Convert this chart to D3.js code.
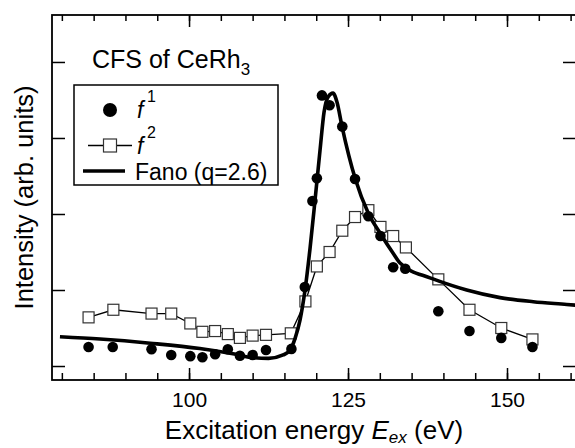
<!DOCTYPE html>
<html>
<head>
<meta charset="utf-8">
<script src="https://cdn.jsdelivr.net/npm/d3@7"></script>
<style>
  html, body { margin: 0; padding: 0; background: #fff; }
  svg { display: block; }
  text { font-family: "Liberation Sans", Arial, Helvetica, sans-serif; fill: #000; }
</style>
</head>
<body>
<svg id="chart" width="575" height="448"></svg>
<script>
// Excitation energies (eV) and intensities (arb. units) of the two CFS peaks
const energyF1 = [84.2, 88.0, 94.1, 97.2, 100.2, 102.1, 104.1, 106.1, 108.0, 110.0, 112.1, 116.1,
                  118.2, 119.4, 120.1, 120.9, 122.1, 124.1, 126.1, 128.2, 130.1, 132.1, 134.0,
                  139.2, 144.1, 149.1, 154.0];
const intensityF1 = [0.25, 0.25, 0.22, 0.145, 0.13, 0.115, 0.155, 0.22, 0.135, 0.145, 0.21, 0.225,
                     1.04, 2.17, 2.47, 3.56, 3.43, 3.15, 2.46, 1.97, 1.71, 1.30, 1.28,
                     0.72, 0.46, 0.37, 0.25];

const energyF2 = [84.2, 88.1, 94.1, 97.2, 100.2, 102.1, 104.1, 106.1, 108.0, 110.0, 112.1, 116.0,
                  118.3, 120.1, 122.1, 124.1, 126.1, 128.2, 130.1, 132.1, 134.1, 139.2, 144.1,
                  149.1, 154.0];
const intensityF2 = [0.64, 0.74, 0.69, 0.69, 0.56, 0.45, 0.46, 0.42, 0.37, 0.40, 0.41, 0.43,
                     0.85, 1.31, 1.50, 1.78, 1.96, 2.05, 1.83, 1.71, 1.56, 1.14, 0.74,
                     0.50, 0.35];

// Fano profile (q = 2.6), sampled along the curve
const fanoEnergy = [79.7, 86.0, 93.9, 101.7, 106.9, 110.0, 112.5, 114.8, 115.9, 116.7, 117.45,
                    118.24, 119.03, 119.81, 120.6, 121.23, 121.86, 122.64, 123.27, 124.06, 126.15,
                    128.19, 130.03, 132.12, 133.18, 137.89, 139.2, 143.66, 148.9, 154.13, 159.39, 160.8];
const fanoIntensity = [0.386, 0.355, 0.30, 0.23, 0.16, 0.11, 0.10, 0.145, 0.21, 0.37, 0.605,
                       1.0, 1.55, 2.18, 2.84, 3.34, 3.54, 3.59, 3.47, 3.15, 2.46,
                       2.01, 1.75, 1.48, 1.355, 1.16, 1.12, 1.0, 0.90, 0.846, 0.81, 0.80];

const xMajorTicks = [100, 125, 150];
const xMinorTicks = d3.range(80, 161, 5);
const yTicks = [0, 1, 2, 3, 4];

const legendLabels = ["f", "f", "Fano (q=2.6)"];
const legendSups = ["1", "2", ""];

const svg = d3.select("#chart");
const plotLeft = 52, plotRight = 576, plotTop = 15, plotBottom = 380;

const x = d3.scaleLinear().domain([78.45, 160.85]).range([plotLeft, plotRight]);
const y = d3.scaleLinear().domain([-0.184, 4.618]).range([plotBottom, plotTop]);

svg.append("defs").append("clipPath").attr("id", "plot-clip")
  .append("rect").attr("x", plotLeft).attr("y", plotTop)
  .attr("width", plotRight - plotLeft).attr("height", plotBottom - plotTop);

// axes with inward ticks on all four sides
function styleAxis(g) {
  g.select(".domain").remove();
  g.selectAll(".tick line").attr("stroke", "#000").attr("stroke-width", 1.5);
}

svg.append("g").attr("transform", `translate(0,${plotBottom})`)
  .call(d3.axisBottom(x).tickValues(xMinorTicks).tickSize(-7).tickFormat(""))
  .call(styleAxis);
svg.append("g").attr("transform", `translate(0,${plotBottom})`)
  .call(d3.axisBottom(x).tickValues(xMajorTicks).tickSize(-12).tickPadding(12).tickFormat(d3.format("d")))
  .call(styleAxis)
  .call(g => g.selectAll(".tick text").attr("font-size", 21).attr("dy", "0.71em")
    .style("font-family", '"Liberation Sans", Arial, sans-serif').attr("fill", "#000"));

svg.append("g").attr("transform", `translate(0,${plotTop})`)
  .call(d3.axisTop(x).tickValues(xMinorTicks).tickSize(-6).tickFormat(""))
  .call(styleAxis);
svg.append("g").attr("transform", `translate(0,${plotTop})`)
  .call(d3.axisTop(x).tickValues(xMajorTicks).tickSize(-12).tickFormat(""))
  .call(styleAxis);

svg.append("g").attr("transform", `translate(${plotLeft},0)`)
  .call(d3.axisLeft(y).tickValues(yTicks).tickSize(-13).tickFormat(""))
  .call(styleAxis);
svg.append("g").attr("transform", `translate(${plotRight},0)`)
  .call(d3.axisRight(y).tickValues(yTicks).tickSize(-13).tickFormat(""))
  .call(styleAxis);

svg.append("rect")
  .attr("x", plotLeft).attr("y", plotTop)
  .attr("width", plotRight - plotLeft).attr("height", plotBottom - plotTop)
  .attr("fill", "none").attr("stroke", "#000").attr("stroke-width", 1.8);

const plot = svg.append("g").attr("clip-path", "url(#plot-clip)");

// f2: open squares joined by a thin line
const f2 = energyF2.map((e, i) => [e, intensityF2[i]]);
plot.append("path")
  .datum(f2)
  .attr("fill", "none").attr("stroke", "#000").attr("stroke-width", 1.3)
  .attr("d", d3.line().x(d => x(d[0])).y(d => y(d[1])));
const sq = 11;
plot.selectAll("rect.f2").data(f2).join("rect").attr("class", "f2")
  .attr("x", d => x(d[0]) - sq / 2).attr("y", d => y(d[1]) - sq / 2)
  .attr("width", sq).attr("height", sq)
  .attr("fill", "#fff").attr("stroke", "#333").attr("stroke-width", 1.2);

// Fano curve
const fano = fanoEnergy.map((e, i) => [e, fanoIntensity[i]]);
plot.append("path")
  .datum(fano)
  .attr("fill", "none").attr("stroke", "#000").attr("stroke-width", 3.6)
  .attr("stroke-linejoin", "round")
  .attr("d", d3.line().curve(d3.curveMonotoneX).x(d => x(d[0])).y(d => y(d[1])));

// f1: filled circles
const f1 = energyF1.map((e, i) => [e, intensityF1[i]]);
plot.selectAll("circle.f1").data(f1).join("circle").attr("class", "f1")
  .attr("cx", d => x(d[0])).attr("cy", d => y(d[1])).attr("r", 5.3).attr("fill", "#000");

// title
const title = svg.append("text").attr("x", 92).attr("y", 68).attr("font-size", 25);
title.append("tspan").text("CFS of CeRh");
title.append("tspan").attr("font-size", 17).attr("dy", 7).text("3");

// legend
const lg = svg.append("g");
lg.append("rect").attr("x", 74).attr("y", 85).attr("width", 204).attr("height", 100)
  .attr("fill", "#fff").attr("stroke", "#000").attr("stroke-width", 1.5);
const rowsY = [110, 145.5, 171];
lg.append("circle").attr("cx", 110).attr("cy", rowsY[0]).attr("r", 7).attr("fill", "#000");
lg.append("line").attr("x1", 88).attr("x2", 132).attr("y1", rowsY[1]).attr("y2", rowsY[1])
  .attr("stroke", "#000").attr("stroke-width", 1.3);
lg.append("rect").attr("x", 110 - 6.5).attr("y", rowsY[1] - 6.5).attr("width", 13).attr("height", 13)
  .attr("fill", "#fff").attr("stroke", "#333").attr("stroke-width", 1.2);
lg.append("line").attr("x1", 83).attr("x2", 125).attr("y1", rowsY[2]).attr("y2", rowsY[2])
  .attr("stroke", "#000").attr("stroke-width", 3.6);

legendLabels.forEach((lab, i) => {
  if (legendSups[i]) {
    lg.append("text").attr("x", 137).attr("y", rowsY[i] + 8).attr("font-size", 23)
      .attr("font-style", "italic").text(lab);
    lg.append("text").attr("x", 147).attr("y", rowsY[i] - 8).attr("font-size", 16).text(legendSups[i]);
  } else {
    lg.append("text").attr("x", 135).attr("y", rowsY[i] + 9).attr("font-size", 23).text(lab);
  }
});

// axis titles
const xt = svg.append("text").attr("x", (plotLeft + 576) / 2).attr("y", 439)
  .attr("text-anchor", "middle").attr("font-size", 26);
xt.append("tspan").text("Excitation energy ");
xt.append("tspan").attr("font-style", "italic").text("E");
xt.append("tspan").attr("font-style", "italic").attr("font-size", 17).attr("dy", 4).text("ex");
xt.append("tspan").attr("dy", -4).text(" (eV)");

svg.append("text")
  .attr("transform", `translate(33,${(plotTop + plotBottom) / 2}) rotate(-90)`)
  .attr("text-anchor", "middle").attr("font-size", 25.5)
  .text("Intensity (arb. units)");
</script>
</body>
</html>
